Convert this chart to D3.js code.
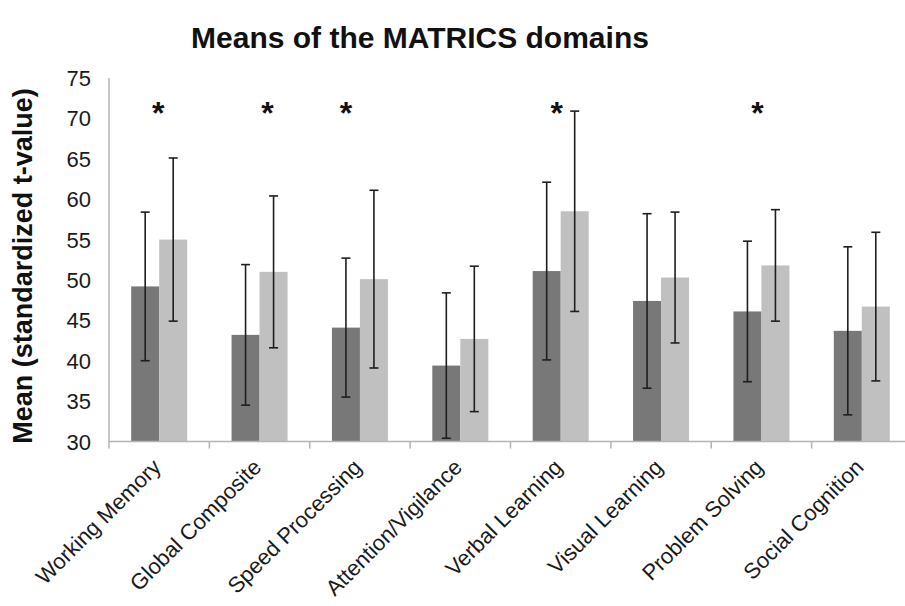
<!DOCTYPE html>
<html>
<head>
<meta charset="utf-8">
<script src="https://cdn.jsdelivr.net/npm/d3@7"></script>
<style>
  html, body { margin: 0; padding: 0; background: #fff; }
  svg { display: block; }
  text { font-family: Arial, "Liberation Sans", Helvetica, sans-serif; }
</style>
</head>
<body>
<svg id="chart" width="905" height="606"></svg>
<script>
// MATRICS domain means (standardized t-values) for two groups, with SD whiskers
const categories = ["Working Memory", "Global Composite", "Speed Processing", "Attention/Vigilance",
                    "Verbal Learning", "Visual Learning", "Problem Solving", "Social Cognition"];
const group1Means = [49.2, 43.2, 44.1, 39.4, 51.1, 47.4, 46.1, 43.7];
const group1SD    = [9.2, 8.7, 8.6, 9.0, 11.0, 10.8, 8.7, 10.4];
const group2Means = [55.0, 51.0, 50.1, 42.7, 58.5, 50.3, 51.8, 46.7];
const group2SD    = [10.1, 9.4, 11.0, 9.0, 12.4, 8.1, 6.9, 9.2];
const significant = ["Working Memory", "Global Composite", "Speed Processing", "Verbal Learning", "Problem Solving"];
const yTicks = [30, 35, 40, 45, 50, 55, 60, 65, 70, 75];
const titleText = "Means of the MATRICS domains";
const yTitle = "Mean (standardized t-value)";

const svg = d3.select("#chart");
const plot = { left: 109, right: 912, top: 78, bottom: 441.5 };

const x = d3.scaleBand().domain(categories).range([plot.left, plot.right]).paddingInner(0).paddingOuter(0);
const y = d3.scaleLinear().domain([30, 75]).range([plot.bottom, plot.top]);
const sub = d3.scaleBand().domain([0, 1]).range([-28, 28]);

const series = [
  { means: group1Means, sd: group1SD, fill: "#787878" },
  { means: group2Means, sd: group2SD, fill: "#c0c0c0" }
];

// Bars
series.forEach((s, si) => {
  svg.append("g").selectAll("rect")
    .data(categories)
    .join("rect")
    .attr("x", (c) => x(c) + x.bandwidth() / 2 + sub(si))
    .attr("y", (c, i) => y(s.means[i]))
    .attr("width", sub.bandwidth())
    .attr("height", (c, i) => y(30) - y(s.means[i]))
    .attr("fill", s.fill);
});

// Error bars
series.forEach((s, si) => {
  const g = svg.append("g").attr("stroke", "#1e1e1e").attr("stroke-width", 1.6);
  categories.forEach((c, i) => {
    const cx = x(c) + x.bandwidth() / 2 + sub(si) + sub.bandwidth() / 2;
    const hi = y(s.means[i] + s.sd[i]), lo = y(s.means[i] - s.sd[i]);
    g.append("line").attr("x1", cx).attr("x2", cx).attr("y1", hi).attr("y2", lo);
    g.append("line").attr("x1", cx - 4.5).attr("x2", cx + 4.5).attr("y1", hi).attr("y2", hi);
    g.append("line").attr("x1", cx - 4.5).attr("x2", cx + 4.5).attr("y1", lo).attr("y2", lo);
  });
});

// Axes
const axisColor = "#b4b4b4";
svg.append("line").attr("x1", plot.left).attr("x2", 905).attr("y1", plot.bottom).attr("y2", plot.bottom)
  .attr("stroke", axisColor).attr("stroke-width", 1.5);
svg.append("line").attr("x1", plot.left).attr("x2", plot.left).attr("y1", plot.top).attr("y2", plot.bottom + 7)
  .attr("stroke", axisColor).attr("stroke-width", 1.5);
svg.append("g").selectAll("line")
  .data(categories.slice(1))
  .join("line")
  .attr("x1", (c) => x(c)).attr("x2", (c) => x(c))
  .attr("y1", plot.bottom).attr("y2", plot.bottom + 7)
  .attr("stroke", axisColor).attr("stroke-width", 1.5);

// Y tick labels
svg.append("g").selectAll("text")
  .data(yTicks)
  .join("text")
  .attr("x", 91)
  .attr("y", (d) => y(d) + 8)
  .attr("text-anchor", "end")
  .attr("font-size", 22)
  .attr("fill", "#1a1a1a")
  .text((d) => d);

// X category labels, rotated
svg.append("g").selectAll("text")
  .data(categories)
  .join("text")
  .attr("text-anchor", "end")
  .attr("font-size", 22)
  .attr("fill", "#1a1a1a")
  .attr("transform", (c) => `translate(${x(c) + x.bandwidth() / 2 + 3},${plot.bottom + 27}) rotate(-45)`)
  .text((c) => c);

// Significance markers
const starShift = { "Working Memory": -1, "Global Composite": 8, "Speed Processing": -14,
                    "Verbal Learning": -4, "Problem Solving": -4 };
svg.append("g").selectAll("text")
  .data(significant)
  .join("text")
  .attr("x", (c) => x(c) + x.bandwidth() / 2 + starShift[c])
  .attr("y", y(71.5) + 18)
  .attr("text-anchor", "middle")
  .attr("font-size", 32)
  .attr("font-weight", "bold")
  .attr("fill", "#111")
  .text("*");

// Title
svg.append("text")
  .attr("x", 420).attr("y", 48)
  .attr("text-anchor", "middle")
  .attr("font-size", 30)
  .attr("font-weight", "bold")
  .attr("fill", "#111")
  .text(titleText);

// Y axis title
svg.append("text")
  .attr("transform", "translate(32,266) rotate(-90)")
  .attr("text-anchor", "middle")
  .attr("font-size", 27)
  .attr("font-weight", "bold")
  .attr("fill", "#111")
  .text(yTitle);
</script>
</body>
</html>
